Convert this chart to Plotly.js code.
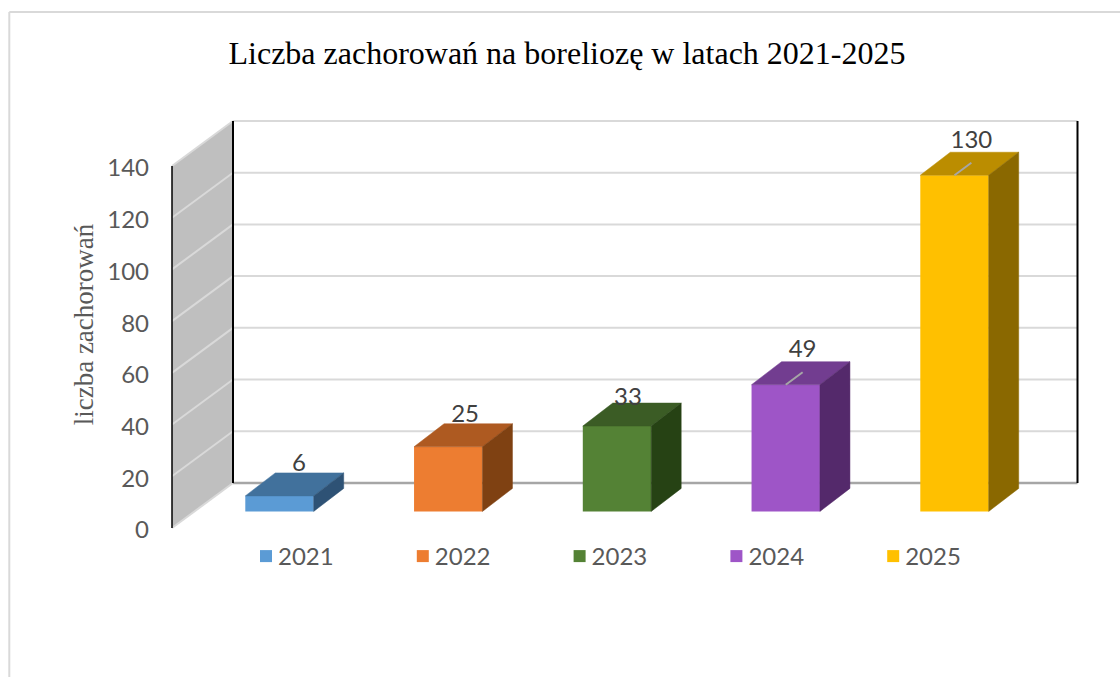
<!DOCTYPE html>
<html><head><meta charset="utf-8">
<script src="https://cdn.plot.ly/plotly-3.0.1.min.js"></script>
<style>html,body{margin:0;padding:0;background:#fff}#c{width:1120px;height:677px}</style>
</head><body><div id="c"></div>
<script>
const years = ['2021','2022','2023','2024','2025'];
const cases = [6,25,33,49,130];
const yTicks = [0,20,40,60,80,100,120,140];
const frontColors = ['#5B9BD5','#ED7D31','#548235','#9E55C7','#FFC000'];
const topColors = ['#41719C','#AE5A21','#3B5C25','#723D90','#BB8D00'];
const sideColors = ['#2E5275','#7F4112','#264214','#54296B','#8A6800'];
const leaderFlags = [false,false,false,true,true];
const labelNudgeX = [0.115,0.1,0.065,0.1,0.1];
const labelNudgeY = [12.1,11.9,10.4,13.0,12.8];

const pxX = 168.75, pxY = 2.586;
const barWidth = 68.4/pxX, barBase = 16.6/pxY;
const barDepthX = 30/pxX, barDepthY = 23/pxY;
const wallX0 = (172-279.5)/pxX, wallX1 = (233-279.5)/pxX, rightX = (1077.5-279.5)/pxX;
const wallDepthY = 45/pxY;
const xRange = [(162-279.5)/pxX,(1088-279.5)/pxX];
const yRange = [-10/pxY,(528-111)/pxY];
const maxTick = yTicks[yTicks.length-1];

const traces = [];
years.forEach((yr,i)=>{
  traces.push({type:'bar',x:[i],y:[cases[i]],base:[barBase],width:[barWidth],name:yr,
    marker:{color:frontColors[i],line:{width:0}},showlegend:true,hoverinfo:'skip'});
});
years.forEach((yr,i)=>{
  const l=i-barWidth/2,r=i+barWidth/2,b=barBase,t=barBase+cases[i];
  traces.push({type:'scatter',mode:'lines',x:[l,r,r+barDepthX,l+barDepthX,l],
    y:[t,t,t+barDepthY,t+barDepthY,t],fill:'toself',fillcolor:topColors[i],
    line:{width:0.5,color:topColors[i]},showlegend:false,hoverinfo:'skip'});
  traces.push({type:'scatter',mode:'lines',x:[r,r+barDepthX,r+barDepthX,r,r],
    y:[b,b+barDepthY,t+barDepthY,t,b],fill:'toself',fillcolor:sideColors[i],
    line:{width:0.5,color:sideColors[i]},showlegend:false,hoverinfo:'skip'});
  if(leaderFlags[i]){
    traces.push({type:'scatter',mode:'lines',x:[i,i+0.1],y:[t,t+4.8],
      line:{width:2,color:'#A6A6A6'},showlegend:false,hoverinfo:'skip'});
  }
});
traces.push({type:'scatter',mode:'text',x:years.map((_,i)=>i+labelNudgeX[i]),
  y:cases.map((v,i)=>barBase+v+labelNudgeY[i]),text:cases.map(String),textposition:'middle center',
  textfont:{family:'Lato',size:24,color:'#404040'},showlegend:false,hoverinfo:'skip',cliponaxis:false});

const shapes = [];
const ln=(x0,y0,x1,y1,color,width)=>shapes.push({type:'line',xref:'x',yref:'y',layer:'below',x0,y0,x1,y1,line:{color,width}});
shapes.push({type:'path',xref:'x',yref:'y',layer:'below',
  path:`M${wallX0},0L${wallX1},${wallDepthY}L${wallX1},${maxTick+wallDepthY}L${wallX0},${maxTick}Z`,
  fillcolor:'#BFBFBF',line:{width:0}});
yTicks.forEach(v=>{
  ln(wallX0,v,wallX1,v+wallDepthY,'#D9D9D9',2);
  if(v>0) ln(wallX1,v+wallDepthY,rightX,v+wallDepthY,'#D9D9D9',2);
});
ln(wallX1,wallDepthY,rightX,wallDepthY,'#A6A6A6',2.5);
ln(wallX0,0,wallX0,maxTick,'#000000',1.5);
ln(wallX1,wallDepthY,wallX1,maxTick+wallDepthY,'#000000',2);
ln(rightX,wallDepthY,rightX,maxTick+wallDepthY,'#000000',2);
const W=926,H=427,L=162,T=111;
const px=x=>(x-L)/W, py=y=>1-(y-T)/H;
shapes.push({type:'line',xref:'paper',yref:'paper',x0:px(9.3),x1:px(1120),y0:py(12),y1:py(12),line:{color:'#D9D9D9',width:2}});
shapes.push({type:'line',xref:'paper',yref:'paper',x0:px(9.3),x1:px(9.3),y0:py(12),y1:py(677),line:{color:'#D9D9D9',width:2}});

const layout = {
  width:1120,height:677,margin:{l:L,r:1120-L-W,t:T,b:677-T-H,pad:0},
  paper_bgcolor:'#fff',plot_bgcolor:'rgba(0,0,0,0)',
  barmode:'overlay',hovermode:false,
  title:{text:'Liczba zachorowań na boreliozę w latach 2021-2025',
    font:{family:'Liberation Serif',size:32,color:'#000'},
    xref:'container',yref:'container',x:567/1120,xanchor:'center',y:1-53/677,yanchor:'middle'},
  xaxis:{range:xRange,visible:false,fixedrange:true},
  yaxis:{range:yRange,tickmode:'array',tickvals:yTicks,ticktext:yTicks.map(String),
    showgrid:false,zeroline:false,showline:false,ticks:'',ticklabelstandoff:12,ticklabelshift:2,
    tickfont:{family:'Lato',size:24,color:'#595959'},fixedrange:true,
    title:{text:'liczba zachorowań',font:{family:'Liberation Serif',size:27,color:'#595959'},standoff:5}},
  legend:{orientation:'h',x:px(238),xanchor:'left',y:py(534),yanchor:'top',
    entrywidth:111.8,entrywidthmode:'pixels',font:{family:'Lato',size:24,color:'#595959'},
    bgcolor:'rgba(0,0,0,0)',traceorder:'normal'},
  shapes
};
Plotly.newPlot('c',traces,layout,{displayModeBar:false,staticPlot:true}).then(()=>{
  document.querySelectorAll('#c .legend .legendsymbols').forEach(el=>el.setAttribute('transform','translate(8,0)'));
});
</script></body></html>
